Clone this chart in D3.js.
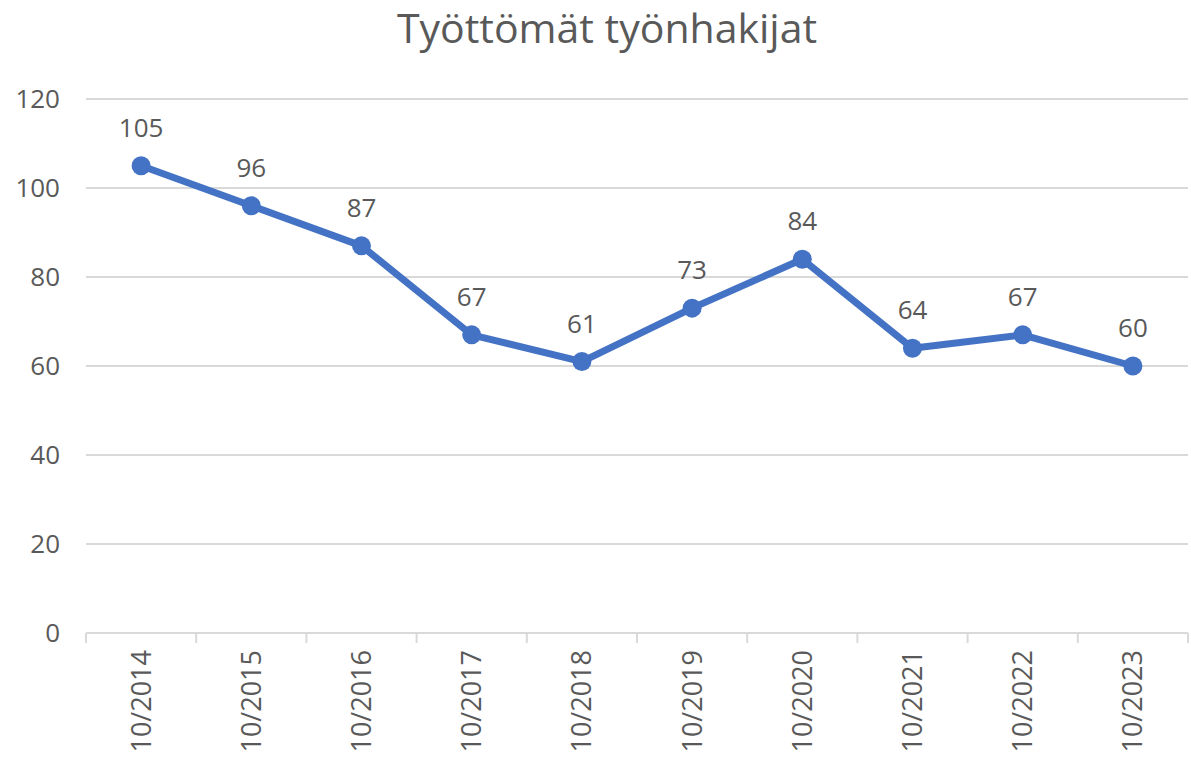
<!DOCTYPE html>
<html>
<head>
<meta charset="utf-8">
<script src="https://cdn.jsdelivr.net/npm/d3@7"></script>
<style>
  body { margin: 0; background: #fff; }
  text { font-family: "Open Sans", sans-serif; fill: #595959; }
</style>
</head>
<body>
<div id="chart"></div>
<script>
const title = "Työttömät työnhakijat";
const categories = ["10/2014", "10/2015", "10/2016", "10/2017", "10/2018", "10/2019", "10/2020", "10/2021", "10/2022", "10/2023"];
const values = [105, 96, 87, 67, 61, 73, 84, 64, 67, 60];
const yTicks = [0, 20, 40, 60, 80, 100, 120];

const width = 1191, height = 765;
const margin = { top: 99, right: 3, bottom: 132, left: 86 };
const plotW = width - margin.left - margin.right;
const plotH = height - margin.top - margin.bottom;

const svg = d3.select("#chart").append("svg")
  .attr("width", width)
  .attr("height", height);

svg.append("text")
  .attr("x", 607)
  .attr("y", 43)
  .attr("text-anchor", "middle")
  .style("font-size", "41px")
  .text(title);

const g = svg.append("g").attr("transform", `translate(${margin.left},${margin.top})`);

const x = d3.scaleBand().domain(categories).range([0, plotW]);
const y = d3.scaleLinear().domain([0, 120]).range([plotH, 0]);

// gridlines
g.append("g")
  .selectAll("line")
  .data(yTicks.filter(t => t > 0))
  .join("line")
  .attr("x1", 0).attr("x2", plotW)
  .attr("y1", d => y(d)).attr("y2", d => y(d))
  .attr("stroke", "#d9d9d9")
  .attr("stroke-width", 2);

// y labels
g.append("g")
  .selectAll("text")
  .data(yTicks)
  .join("text")
  .attr("x", -26)
  .attr("y", d => y(d))
  .attr("dy", "0.35em")
  .attr("text-anchor", "end")
  .style("font-size", "26px")
  .text(d => d);

// x axis line with ticks between categories
const xAxis = g.append("g").attr("transform", `translate(0,${plotH})`);
xAxis.append("line")
  .attr("x1", 0).attr("x2", plotW)
  .attr("stroke", "#d9d9d9").attr("stroke-width", 2);
xAxis.selectAll(".tick-line")
  .data(categories.concat([null]))
  .join("line")
  .attr("class", "tick-line")
  .attr("x1", (d, i) => i * x.step())
  .attr("x2", (d, i) => i * x.step())
  .attr("y1", 0).attr("y2", 10)
  .attr("stroke", "#d9d9d9").attr("stroke-width", 2);

xAxis.selectAll(".xlab")
  .data(categories)
  .join("text")
  .attr("class", "xlab")
  .attr("transform", d => `translate(${x(d) + x.bandwidth() / 2},17) rotate(-90)`)
  .attr("text-anchor", "end")
  .attr("dy", "0.35em")
  .style("font-size", "27px")
  .text(d => d);

// line
const pts = categories.map((c, i) => ({ c, v: values[i] }));
const line = d3.line().x(d => x(d.c) + x.bandwidth() / 2).y(d => y(d.v));

g.append("path")
  .datum(pts)
  .attr("d", line)
  .attr("fill", "none")
  .attr("stroke", "#4472c4")
  .attr("stroke-width", 7)
  .attr("stroke-linejoin", "round");

g.selectAll(".dot")
  .data(pts)
  .join("circle")
  .attr("class", "dot")
  .attr("cx", d => x(d.c) + x.bandwidth() / 2)
  .attr("cy", d => y(d.v))
  .attr("r", 9.5)
  .attr("fill", "#4472c4");

g.selectAll(".lbl")
  .data(pts)
  .join("text")
  .attr("class", "lbl")
  .attr("x", d => x(d.c) + x.bandwidth() / 2)
  .attr("y", d => y(d.v) - 29)
  .attr("text-anchor", "middle")
  .style("font-size", "26px")
  .text(d => d.v);
</script>
</body>
</html>
